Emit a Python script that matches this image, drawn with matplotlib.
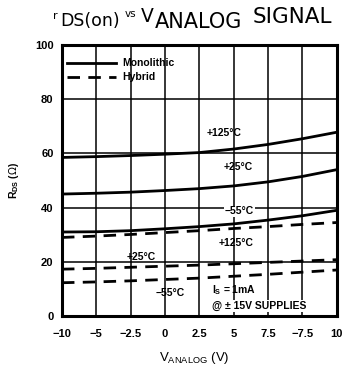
import matplotlib
matplotlib.use("Agg")
import matplotlib.pyplot as plt

plt.rcParams['font.family'] = ['Liberation Sans', 'DejaVu Sans']

# Analog signal voltage (V)
v_analog = [-10, -7.5, -5, -2.5, 0, 2.5, 5, 7.5, 10]
x_tick_labels = ["\u221210", "\u22125", "\u22122.5", "0", "2.5", "5", "7.5", "\u22127.5", "10"]

# On-resistance (ohms), monolithic devices
mono_125 = [58.5, 58.8, 59.2, 59.7, 60.3, 61.6, 63.3, 65.4, 67.8]
mono_25 = [45.0, 45.3, 45.7, 46.3, 47.0, 48.0, 49.5, 51.5, 54.0]
mono_m55 = [31.0, 31.1, 31.5, 32.2, 33.0, 34.0, 35.4, 37.0, 39.0]

# On-resistance (ohms), hybrid devices
hyb_125 = [29.0, 29.5, 30.1, 30.8, 31.5, 32.3, 33.0, 33.8, 34.5]
hyb_25 = [17.3, 17.6, 18.0, 18.4, 18.8, 19.3, 19.8, 20.3, 20.8]
hyb_m55 = [12.3, 12.6, 13.0, 13.5, 14.0, 14.7, 15.4, 16.2, 17.0]

y_ticks = [0, 20, 40, 60, 80, 100]

W, H = 348, 371
fig = plt.figure(figsize=(W / 100, H / 100), dpi=100)
ax = fig.add_axes([0.178, 0.148, 0.790, 0.731])

lw = 2.0
ax.plot(v_analog, mono_125, color="black", lw=lw, zorder=3)
ax.plot(v_analog, mono_25, color="black", lw=lw, zorder=3)
ax.plot(v_analog, mono_m55, color="black", lw=lw, zorder=3)
dash = (0, (4.5, 3.0))
ax.plot(v_analog, hyb_125, color="black", lw=lw, ls=dash, zorder=3)
ax.plot(v_analog, hyb_25, color="black", lw=lw, ls=dash, zorder=3)
ax.plot(v_analog, hyb_m55, color="black", lw=lw, ls=dash, zorder=3)

ax.set_xlim(-10, 10)
ax.set_ylim(0, 100)
ax.set_xticks(v_analog)
ax.set_xticklabels(x_tick_labels)
ax.set_yticks(y_ticks)
ax.tick_params(axis="y", length=0, labelsize=8, pad=6)
ax.tick_params(axis="x", length=0, labelsize=8, pad=9)
for lab in ax.get_xticklabels() + ax.get_yticklabels():
    lab.set_fontweight("bold")
ax.grid(True, color="black", lw=1.1)
for s in ax.spines.values():
    s.set_linewidth(2.2)

# Legend drawn as plain strokes with labels
leg_font = dict(fontsize=7.5, fontweight="bold", va="center", ha="left")
ax.plot([-9.6, -6.1], [93.5, 93.5], color="black", lw=lw, zorder=4)
ax.text(-5.6, 93.5, "Monolithic", **leg_font)
ax.plot([-9.6, -6.1], [88.3, 88.3], color="black", lw=lw, ls=dash, zorder=4)
ax.text(-5.6, 88.3, "Hybrid", **leg_font)

# Curve labels
lab_font = dict(fontsize=7.5, fontweight="bold", ha="center", va="center")
white = dict(facecolor="white", edgecolor="none", pad=0.6)
ax.text(1.8, 67.5, "+125\u00b0C", **lab_font)
ax.text(2.8, 55.0, "+25\u00b0C", **lab_font)
ax.text(2.9, 38.6, "\u221255\u00b0C", bbox=white, zorder=5, **lab_font)
ax.text(2.7, 27.0, "+125\u00b0C", **lab_font)
ax.text(-4.2, 21.8, "+25\u00b0C", **lab_font)
ax.text(-2.1, 8.5, "\u221255\u00b0C", **lab_font)
ax.text(0.9, 9.6, r"I$_\mathregular{S}$ = 1mA", fontsize=7.5, fontweight="bold",
        ha="left", va="center")
ax.text(0.95, 3.7, "@ \u00b1 15V SUPPLIES", fontsize=7.5, fontweight="bold",
        ha="left", va="center", bbox=white, zorder=5)

# Axis labels
fig.text(14 / W, 1 - 180 / H, r"R$_\mathregular{DS}$ ($\Omega$)", rotation=90,
         fontsize=7.5, fontweight="bold", ha="center", va="center")
fig.text(194 / W, 1 - 358 / H, r"V$_\mathregular{ANALOG}$ (V)", fontsize=9.5,
         ha="center", va="center")


def title_piece(x, y, s, size):
    fig.text(x / W, 1 - y / H, s, fontsize=size, family="DejaVu Sans",
             ha="left", va="baseline")


# Title assembled from differently sized pieces
title_piece(53, 19, "r", 8)
title_piece(60, 26, "DS(on)", 12.5)
title_piece(125, 17, "vs", 7.5)
title_piece(141, 22, "V", 13.5)
title_piece(155, 28, "ANALOG", 15)
title_piece(253, 23, "SIGNAL", 15.5)

fig.savefig("out.png", dpi=100)
